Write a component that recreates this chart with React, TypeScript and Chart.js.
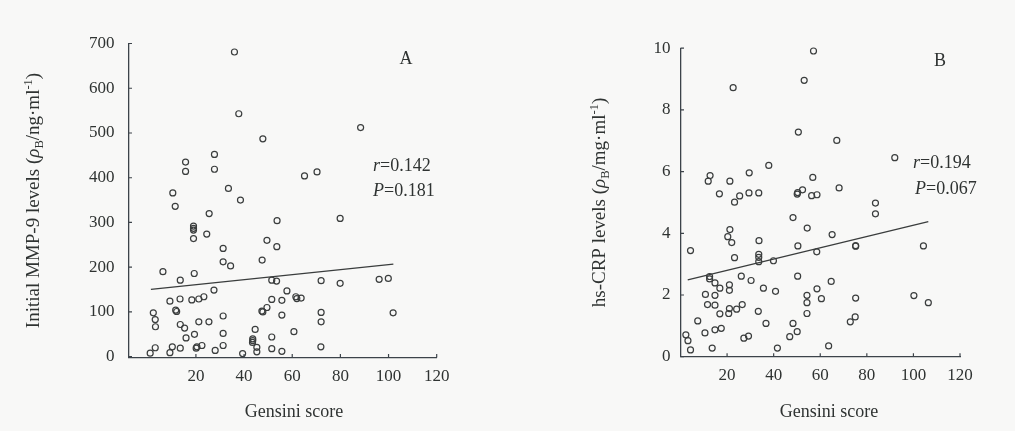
import React, { useEffect, useRef } from "react";
import { Chart, registerables } from "chart.js";

Chart.register(...registerables);

// ---------- data ----------
const gensiniA = [36.0, 37.8, 47.8, 88.4, 15.7, 15.7, 27.7, 27.7, 33.5, 38.5, 10.4, 11.4, 25.5, 65.1, 70.3, 79.9, 53.7, 19.0, 19.0, 19.0, 19.0, 24.5, 49.5, 53.6, 31.3, 31.3, 34.4, 47.5, 6.3, 19.3, 13.5, 27.5, 51.5, 53.5, 57.8, 72.0, 79.9, 96.1, 99.9, 61.5, 61.9, 63.7, 51.5, 55.7, 49.5, 47.4, 47.8, 9.2, 13.4, 18.3, 21.2, 23.3, 11.6, 12.0, 2.3, 3.1, 3.2, 31.3, 72.0, 72.0, 55.7, 101.9, 13.5, 15.3, 21.2, 25.4, 15.9, 19.4, 31.3, 44.6, 43.6, 43.6, 43.5, 60.7, 51.5, 3.1, 1.0, 10.2, 9.2, 13.5, 20.1, 20.4, 22.5, 31.3, 28.0, 39.4, 45.3, 45.3, 51.5, 55.7, 71.9];
const mmp9A = [681, 543, 487, 512, 435, 414, 452, 419, 376, 350, 366, 336, 320, 404, 413, 309, 304, 292, 287, 283, 264, 274, 260, 246, 242, 212, 203, 216, 190, 186, 171, 149, 171, 169, 147, 170, 164, 173, 175, 134, 130, 131, 128, 126, 110, 102, 100, 124, 129, 127, 129, 134, 104, 101, 98, 83, 67, 91, 99, 78, 93, 98, 72, 64, 78, 78, 42, 50, 52, 61, 40, 36, 32, 56, 44, 20, 8, 22, 9, 19, 19, 22, 25, 25, 14, 7, 21, 11, 18, 12, 22];
const trendAx = [1.3, 102];
const trendAy = [150.6, 207];

const gensiniB = [57.1, 53.1, 22.6, 50.6, 67.1, 92.0, 37.9, 12.7, 11.9, 21.2, 29.5, 16.7, 25.4, 29.4, 33.6, 23.2, 50.3, 50.1, 52.4, 56.8, 56.3, 58.6, 68.1, 83.7, 83.7, 48.3, 54.4, 65.1, 21.2, 20.3, 22.0, 33.7, 4.3, 50.4, 75.2, 75.2, 104.3, 58.5, 23.2, 33.6, 33.6, 33.6, 39.9, 12.5, 12.5, 14.8, 16.9, 21.0, 21.0, 26.1, 30.3, 35.6, 40.8, 50.3, 64.7, 58.6, 60.5, 54.3, 54.3, 54.3, 75.2, 100.2, 106.4, 10.7, 14.8, 11.6, 14.8, 21.0, 20.7, 24.1, 26.5, 16.9, 33.4, 7.4, 36.7, 48.3, 72.9, 75.0, 10.5, 14.8, 17.5, 2.3, 3.2, 4.3, 13.6, 27.2, 29.2, 46.9, 50.1, 41.6, 63.6];
const crpB = [9.91, 8.96, 8.72, 7.28, 7.01, 6.45, 6.20, 5.87, 5.69, 5.69, 5.96, 5.28, 5.21, 5.31, 5.31, 5.01, 5.32, 5.27, 5.41, 5.81, 5.22, 5.25, 5.47, 4.98, 4.63, 4.51, 4.17, 3.96, 4.12, 3.89, 3.70, 3.76, 3.44, 3.59, 3.60, 3.58, 3.59, 3.40, 3.21, 3.32, 3.22, 3.08, 3.11, 2.60, 2.52, 2.39, 2.22, 2.33, 2.15, 2.61, 2.47, 2.22, 2.12, 2.61, 2.44, 2.20, 1.88, 1.99, 1.75, 1.40, 1.90, 1.98, 1.75, 2.02, 1.99, 1.69, 1.67, 1.56, 1.40, 1.54, 1.69, 1.39, 1.47, 1.16, 1.08, 1.08, 1.13, 1.29, 0.77, 0.87, 0.92, 0.71, 0.52, 0.22, 0.28, 0.60, 0.67, 0.65, 0.81, 0.28, 0.35];
const trendBx = [3.1, 106.4];
const trendBy = [2.49, 4.38];

const xTickValues = [20, 40, 60, 80, 100, 120];
const yTicksA = [0, 100, 200, 300, 400, 500, 600, 700];
const yTicksB = [0, 2, 4, 6, 8, 10];

const xTitle = "Gensini score";
const statsA = ["0.142", "0.181"];
const statsB = ["0.194", "0.067"];

// ---------- style ----------
const FAMILY = "'Liberation Serif', 'Times New Roman', serif";
const INK = "#2f3332";
const AXIS = "#3c434a";
const BG = "#f8f8f7";

type Seg = { t: string; italic?: boolean; sub?: boolean; sup?: boolean };
type TextItem = { segs: Seg[]; x: number; y: number; size: number; align: "left" | "center"; rotate?: number };

function drawRich(ctx: CanvasRenderingContext2D, item: TextItem) {
  const { segs, x, y, size, align, rotate } = item;
  const fontFor = (s: Seg) =>
    `${s.italic ? "italic " : ""}${s.sub || s.sup ? size * 0.66 : size}px ${FAMILY}`;
  let total = 0;
  const widths = segs.map((s) => {
    ctx.font = fontFor(s);
    const w = ctx.measureText(s.t).width;
    total += w;
    return w;
  });
  ctx.save();
  ctx.translate(x, y);
  if (rotate) ctx.rotate(rotate);
  ctx.textBaseline = "alphabetic";
  ctx.textAlign = "left";
  ctx.fillStyle = INK;
  let cx = align === "center" ? -total / 2 : 0;
  const base = size * 0.33;
  segs.forEach((s, i) => {
    ctx.font = fontFor(s);
    const dy = s.sub ? size * 0.2 : s.sup ? -size * 0.4 : 0;
    ctx.fillText(s.t, cx, base + dy);
    cx += widths[i];
  });
  ctx.restore();
}

const decorPlugin = {
  id: "decor",
  afterDraw(chart: any, _args: any, o: any) {
    const ctx: CanvasRenderingContext2D = chart.ctx;
    const xs = chart.scales.x;
    const ys = chart.scales.y;
    ctx.save();
    ctx.strokeStyle = AXIS;
    ctx.lineWidth = 1.2;
    ctx.beginPath();
    xs.ticks.forEach((t: any) => {
      const p = xs.getPixelForValue(t.value);
      ctx.moveTo(p, xs.top);
      ctx.lineTo(p, xs.top - o.tickLen);
    });
    ys.ticks.forEach((t: any) => {
      const p = ys.getPixelForValue(t.value);
      ctx.moveTo(ys.right, p);
      ctx.lineTo(ys.right + o.tickLen, p);
    });
    ctx.stroke();
    ctx.restore();
    (o.texts as TextItem[]).forEach((it) => drawRich(ctx, it));
  },
};

type PanelSpec = {
  width: number;
  padTop: number;
  padRight: number;
  yWidth: number;
  xHeight: number;
  xMin: number;
  xMax: number;
  yMin: number;
  yMax: number;
  yTicks: number[];
  yPad: number;
  xs: number[];
  ys: number[];
  tx: number[];
  ty: number[];
  texts: TextItem[];
};

function buildConfig(p: PanelSpec): any {
  const pts = p.xs.map((v, i) => ({ x: v, y: p.ys[i] }));
  const line = p.tx.map((v, i) => ({ x: v, y: p.ty[i] }));
  return {
    type: "scatter",
    data: {
      datasets: [
        {
          data: pts,
          clip: false,
          pointStyle: "circle",
          pointRadius: 3,
          pointBorderWidth: 1.2,
          borderColor: "#3a3d3d",
          backgroundColor: "rgba(0,0,0,0)",
        },
        {
          data: line,
          showLine: true,
          pointRadius: 0,
          borderColor: "#3a3d3d",
          borderWidth: 1.3,
          backgroundColor: "rgba(0,0,0,0)",
        },
      ],
    },
    plugins: [decorPlugin],
    options: {
      animation: false,
      responsive: false,
      events: [],
      layout: { padding: { left: 0, top: p.padTop, right: p.padRight, bottom: 0 } },
      plugins: {
        legend: { display: false },
        tooltip: { enabled: false },
        decor: { tickLen: 3.5, texts: p.texts },
      },
      scales: {
        x: {
          type: "linear",
          min: p.xMin,
          max: p.xMax,
          afterBuildTicks: (s: any) => {
            s.ticks = xTickValues.map((v) => ({ value: v }));
          },
          afterFit: (s: any) => {
            s.height = p.xHeight;
          },
          grid: { display: false, drawTicks: false },
          border: { display: true, color: AXIS, width: 1.3 },
          ticks: {
            padding: 9,
            color: INK,
            font: { family: FAMILY, size: 17 },
            autoSkip: false,
            maxRotation: 0,
            callback: (v: any) => String(v),
          },
        },
        y: {
          type: "linear",
          min: p.yMin,
          max: p.yMax,
          afterBuildTicks: (s: any) => {
            s.ticks = p.yTicks.map((v) => ({ value: v }));
          },
          afterFit: (s: any) => {
            s.width = p.yWidth;
          },
          grid: { display: false, drawTicks: false },
          border: { display: true, color: AXIS, width: 1.3 },
          ticks: {
            padding: p.yPad,
            color: INK,
            font: { family: FAMILY, size: 17 },
            autoSkip: false,
            callback: (v: any) => String(v),
          },
        },
      },
    },
  };
}

const ROT = -Math.PI / 2;

const panelA: PanelSpec = {
  width: 470,
  padTop: 43.5,
  padRight: 33.3,
  yWidth: 128.5,
  xHeight: 73.4,
  xMin: -8,
  xMax: 120,
  yMin: -2,
  yMax: 700,
  yTicks: yTicksA,
  yPad: 14,
  xs: gensiniA,
  ys: mmp9A,
  tx: trendAx,
  ty: trendAy,
  texts: [
    {
      segs: [
        { t: "Initial MMP-9 levels (" },
        { t: "ρ", italic: true },
        { t: "B", sub: true },
        { t: "/ng·ml" },
        { t: "-1", sup: true },
        { t: ")" },
      ],
      x: 33,
      y: 200.5,
      size: 19,
      align: "center",
      rotate: ROT,
    },
    { segs: [{ t: xTitle }], x: 294, y: 411.5, size: 18, align: "center" },
    { segs: [{ t: "A" }], x: 406, y: 58, size: 18, align: "center" },
    { segs: [{ t: "r", italic: true }, { t: "=" + statsA[0] }], x: 373, y: 165, size: 18, align: "left" },
    { segs: [{ t: "P", italic: true }, { t: "=" + statsA[1] }], x: 373, y: 190, size: 18, align: "left" },
  ],
};

const panelB: PanelSpec = {
  width: 545,
  padTop: 48.2,
  padRight: 55,
  yWidth: 210.5,
  xHeight: 74.3,
  xMin: 0,
  xMax: 120,
  yMin: 0,
  yMax: 10,
  yTicks: yTicksB,
  yPad: 10,
  xs: gensiniB,
  ys: crpB,
  tx: trendBx,
  ty: trendBy,
  texts: [
    {
      segs: [
        { t: "hs-CRP levels (" },
        { t: "ρ", italic: true },
        { t: "B", sub: true },
        { t: "/mg·ml" },
        { t: "-1", sup: true },
        { t: ")" },
      ],
      x: 129,
      y: 202.5,
      size: 19,
      align: "center",
      rotate: ROT,
    },
    { segs: [{ t: xTitle }], x: 359, y: 411.5, size: 18, align: "center" },
    { segs: [{ t: "B" }], x: 470, y: 60, size: 18, align: "center" },
    { segs: [{ t: "r", italic: true }, { t: "=" + statsB[0] }], x: 443, y: 162, size: 18, align: "left" },
    { segs: [{ t: "P", italic: true }, { t: "=" + statsB[1] }], x: 445, y: 188, size: 18, align: "left" },
  ],
};

function Panel({ spec, left }: { spec: PanelSpec; left: number }) {
  const ref = useRef<HTMLCanvasElement | null>(null);
  useEffect(() => {
    if (!ref.current) return;
    const chart = new Chart(ref.current, buildConfig(spec));
    return () => chart.destroy();
  }, [spec]);
  return (
    <canvas
      ref={ref}
      width={spec.width}
      height={431}
      style={{ position: "absolute", left, top: 0, width: spec.width, height: 431, display: "block" }}
    />
  );
}

export default function App() {
  return (
    <div
      style={{
        position: "fixed",
        left: 0,
        top: 0,
        width: 1015,
        height: 431,
        background: BG,
        overflow: "hidden",
      }}
    >
      <Panel spec={panelA} left={0} />
      <Panel spec={panelB} left={470} />
    </div>
  );
}
